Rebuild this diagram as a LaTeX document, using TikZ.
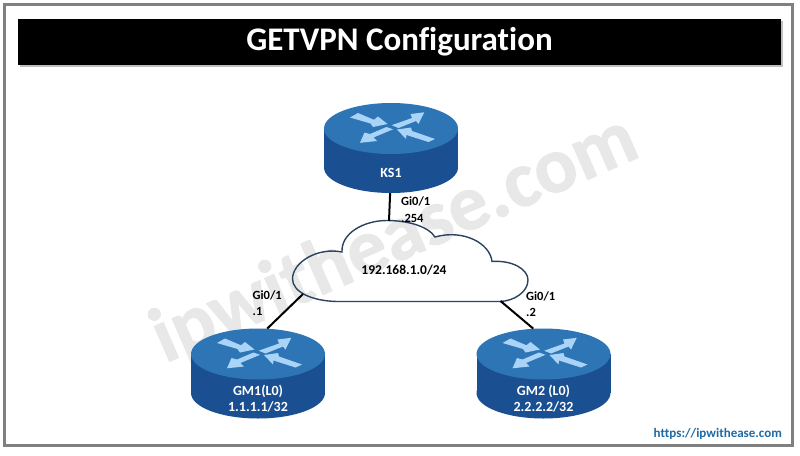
\documentclass[tikz,border=0pt]{standalone}
\usepackage{fontspec}
\setmainfont[Ligatures=NoCommon]{Carlito}
\newfontfamily\wmfont[Ligatures=NoCommon,BoldFeatures={FakeBold=1.2}]{Carlito}
\usetikzlibrary{shapes.geometric}
\definecolor{RTop}{HTML}{2E75B6}
\definecolor{RSide}{HTML}{1A4F92}
\definecolor{RArrow}{HTML}{A9D3F7}
\definecolor{CloudLine}{HTML}{2C4260}
\definecolor{WMark}{HTML}{E8E8E8}
\definecolor{UrlBlue}{HTML}{1F6AA5}
\tikzset{
    rlabel/.style={text=white,font=\bfseries\fontsize{14}{16}\selectfont,align=center,inner sep=0pt},
    plabel/.style={font=\bfseries\fontsize{12.5}{16.5}\selectfont,align=left,anchor=west,inner sep=0pt},
    rdisc/.style={ellipse,minimum width=134pt,minimum height=51pt,inner sep=0pt,fill=#1},
    rarrow/.style={fill=RArrow,draw=none},
    link/.style={line width=2pt,black}
}
% router: name, x, y of the top disc centre, caption
\newcommand{\router}[4]{
    \node[rdisc=RSide] (#1base) at (#2,#3+39) {};
    \fill[RSide] (#2-67,#3) rectangle (#2+67,#3+39);
    \node[rdisc=RTop] (#1) at (#2,#3) {};
    \begin{scope}[shift={(#2,#3)}]
        \fill[rarrow] (-41,-11) -- (-33,-15.5) -- (-17,-8.7) -- (-13,-12) -- (-3.5,-4.5) -- (-18,-1.5) -- (-20.5,-5) -- cycle;
        \fill[rarrow] (0.7,-3.3) -- (21,-10.5) -- (19.5,-14.5) -- (33.3,-16.2) -- (27.5,-4.5) -- (25,-7.5) -- (7.5,-0.5) -- cycle;
        \fill[rarrow] (-4.5,-1.5) -- (-21,5.5) -- (-26.5,4) -- (-31,14.3) -- (-14,12.5) -- (-17.5,9) -- (2,0.8) -- cycle;
        \fill[rarrow] (6,1) -- (20,-1) -- (21,2.5) -- (44,10.5) -- (37.5,13.5) -- (15.5,6.5) -- (15,10.5) -- cycle;
    \end{scope}
    \node[rlabel] (#1cap) at (#2,#3+44.5) {#4};
}
\begin{document}
\begin{tikzpicture}[x=1pt,y=-1pt]
    \useasboundingbox (0,0) rectangle (800,455);
    \fill[white] (0,0) rectangle (800,455);
    \draw[gray,line width=3pt] (4,4) rectangle (792,445);
    \node[rotate=23.5,text=WMark,font=\wmfont\bfseries\fontsize{79}{79}\selectfont] (wmark) at (395,240) {ipwithease.com};
    \fill[gray!50] (20,21) rectangle (783,67);
    \node[fill=black,text=white,minimum width=763pt,minimum height=46pt,inner sep=0pt,font=\bfseries\fontsize{33}{33}\selectfont] (title) at (399.5,42) {GETVPN Configuration};
    % routers
    \router{ks1}{391}{128.5}{KS1}
    \router{gm1}{258}{354}{GM1(L0)\\1.1.1.1/32}
    \router{gm2}{543.5}{354}{GM2 (L0)\\2.2.2.2/32}
    % cloud
    \coordinate (cloudtop) at (389,221);
    \coordinate (cloudleft) at (303,294);
    \coordinate (cloudright) at (500.5,301);
    \draw[CloudLine,line width=1.4pt] (337,301.5) .. controls (312,301) and (292.5,292) .. (292.5,279)
        .. controls (292.5,262) and (318,247) .. (342,252)
        .. controls (341,233) and (364,220.5) .. (387,220.5)
        .. controls (407,220.5) and (428,226) .. (435,237)
        .. controls (463,229) and (490,243) .. (492,261.5)
        .. controls (512,260) and (528,269) .. (528,280)
        .. controls (528,292) and (514,301) .. (500,301.5) -- cycle;
    \node[font=\bfseries\fontsize{13.5}{16}\selectfont,inner sep=0pt] (cloud) at (404,270) {192.168.1.0/24};
    % links
    \draw[link] (ks1base.-92) -- (cloudtop);
    \draw[link] (gm1.70) -- (cloudleft);
    \draw[link] (gm2.112) -- (cloudright);
    % port labels
    \node[plabel] (ks1port) at (401,209.5) {Gi0/1\\.254};
    \node[plabel] (gm1port) at (252.5,303) {Gi0/1\\.1};
    \node[plabel] (gm2port) at (526,304) {Gi0/1\\.2};
    \node[anchor=east,inner sep=0pt,text=UrlBlue,font=\bfseries\fontsize{13}{16}\selectfont] (url) at (782,434) {https://ipwithease.com};
\end{tikzpicture}
\end{document}
